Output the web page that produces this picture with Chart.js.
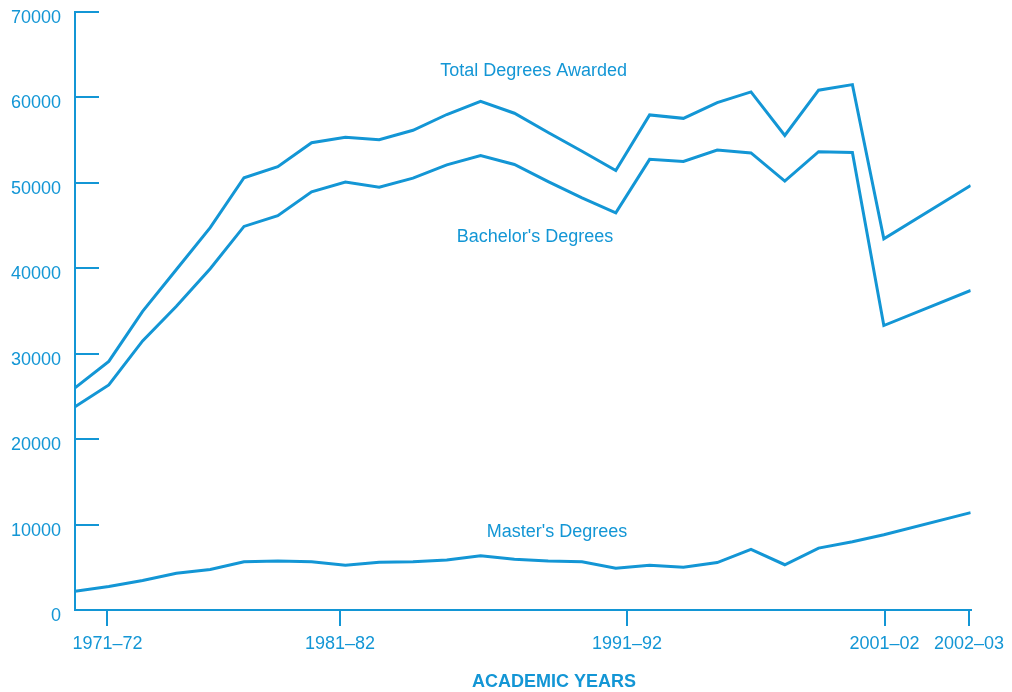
<!DOCTYPE html>
<html>
<head>
<meta charset="utf-8">
<title>Degrees Awarded by Academic Year</title>
<script src="https://cdn.jsdelivr.net/npm/chart.js@4.4.1/dist/chart.umd.min.js"></script>
<style>
  html, body { margin: 0; padding: 0; background: #fff; }
  canvas { display: block; }
</style>
</head>
<body>
<canvas id="degreesChart" width="1012" height="692"></canvas>
<script>
/* ------------------------------------------------------------
   DATA
------------------------------------------------------------ */
// position of each observation along the x axis (evenly spaced, last one set apart)
const xPos = [0, 1, 2, 3, 4, 5, 6, 7, 8, 9, 10, 11, 12, 13, 14, 15, 16, 17, 18, 19, 20, 21, 22, 23, 23.93, 26.5];

const totalDegrees = [26000, 29100, 34950, 39850, 44750, 50600, 51900, 54700, 55350, 55050, 56150, 58000, 59550,
  58150, 55900, 53700, 51450, 57950, 57550, 59400, 60650, 55550, 60850, 61500, 43450, 49700];

const bachelorsDegrees = [23800, 26350, 31500, 35550, 39950, 44900, 46150, 48950, 50100, 49500, 50550, 52100, 53200,
  52150, 50150, 48250, 46500, 52750, 52500, 53850, 53500, 50200, 53650, 53550, 33300, 37400];

const mastersDegrees = [2200, 2750, 3450, 4300, 4750, 5650, 5750, 5650, 5250, 5600, 5650, 5850, 6350,
  5950, 5750, 5650, 4900, 5250, 5000, 5550, 7100, 5300, 7250, 8000, 8800, 11400];

const yearTickPos = [0.96, 7.84, 16.33, 23.95, 26.45];
const yearTickLabels = ["1971\u201372", "1981\u201382", "1991\u201392", "2001\u201302", "2002\u201303"];

const seriesNames = ["Total Degrees Awarded", "Bachelor's Degrees", "Master's Degrees"];

/* ------------------------------------------------------------
   STYLE
------------------------------------------------------------ */
const BLUE = "#1396d5";
const FONT = '"Liberation Sans", Arial, Helvetica, sans-serif';

const toPoints = values => values.map((v, i) => ({ x: xPos[i], y: v }));

function lineSet(label, values) {
  return {
    label,
    data: toPoints(values),
    borderColor: BLUE,
    borderWidth: 3,
    pointRadius: 0,
    tension: 0,
    fill: false
  };
}

/* ------------------------------------------------------------
   PLUGINS
------------------------------------------------------------ */
// short y tick marks that point into the plot
const innerTicks = {
  id: "innerTicks",
  afterDraw(chart) {
    const { ctx, chartArea, scales } = chart;
    const y = scales.y;
    ctx.save();
    ctx.strokeStyle = BLUE;
    ctx.lineWidth = 2;
    y.ticks.forEach(t => {
      const py = Math.round(y.getPixelForValue(t.value));
      ctx.beginPath();
      ctx.moveTo(chartArea.left, py);
      ctx.lineTo(chartArea.left + 24, py);
      ctx.stroke();
    });
    ctx.restore();
  }
};

// series names written next to the lines + axis caption
const seriesText = {
  id: "seriesText",
  afterDraw(chart) {
    const { ctx, chartArea, scales } = chart;
    const x = scales.x;
    const y = scales.y;
    const spots = [
      { text: seriesNames[0], xv: 13.57, yv: 62500 },
      { text: seriesNames[1], xv: 13.61, yv: 43100 },
      { text: seriesNames[2], xv: 14.26, yv: 8530 }
    ];
    ctx.save();
    ctx.fillStyle = BLUE;
    ctx.textAlign = "center";
    ctx.textBaseline = "alphabetic";
    ctx.font = "18px " + FONT;
    spots.forEach(s => {
      ctx.fillText(s.text, x.getPixelForValue(s.xv), y.getPixelForValue(s.yv));
    });
    ctx.font = "bold 18px " + FONT;
    ctx.fillText("ACADEMIC YEARS", x.getPixelForValue(14.17), chartArea.bottom + 76.5);
    ctx.restore();
  }
};

/* ------------------------------------------------------------
   CHART
------------------------------------------------------------ */
new Chart(document.getElementById("degreesChart"), {
  type: "line",
  data: {
    datasets: [
      lineSet(seriesNames[0], totalDegrees),
      lineSet(seriesNames[1], bachelorsDegrees),
      lineSet(seriesNames[2], mastersDegrees)
    ]
  },
  options: {
    responsive: false,
    animation: false,
    layout: { padding: { top: 12, right: 41.3, bottom: 0, left: 0 } },
    plugins: {
      legend: { display: false },
      tooltip: { enabled: false }
    },
    scales: {
      x: {
        type: "linear",
        min: 0,
        max: 26.5,
        afterBuildTicks: scale => {
          scale.ticks = yearTickPos.map(v => ({ value: v }));
        },
        afterFit: scale => {
          scale.height = 82;
          scale.paddingLeft = 0;
          scale.paddingRight = 0;
        },
        grid: {
          drawOnChartArea: false,
          drawTicks: true,
          tickLength: 16,
          color: BLUE,
          lineWidth: 2
        },
        border: { display: true, color: BLUE, width: 2 },
        ticks: {
          autoSkip: false,
          maxRotation: 0,
          padding: 7,
          color: BLUE,
          font: { family: FONT, size: 18 },
          callback: (v, i) => yearTickLabels[i]
        }
      },
      y: {
        min: 0,
        max: 70000,
        afterFit: scale => {
          scale.width = 75;
          scale.paddingTop = 0;
          scale.paddingBottom = 0;
        },
        grid: { drawOnChartArea: false, drawTicks: false },
        border: { display: true, color: BLUE, width: 2 },
        ticks: {
          stepSize: 10000,
          padding: 14,
          labelOffset: 6,
          color: BLUE,
          font: { family: FONT, size: 18 },
          callback: v => String(v)
        }
      }
    }
  },
  plugins: [innerTicks, seriesText]
});
</script>
</body>
</html>
